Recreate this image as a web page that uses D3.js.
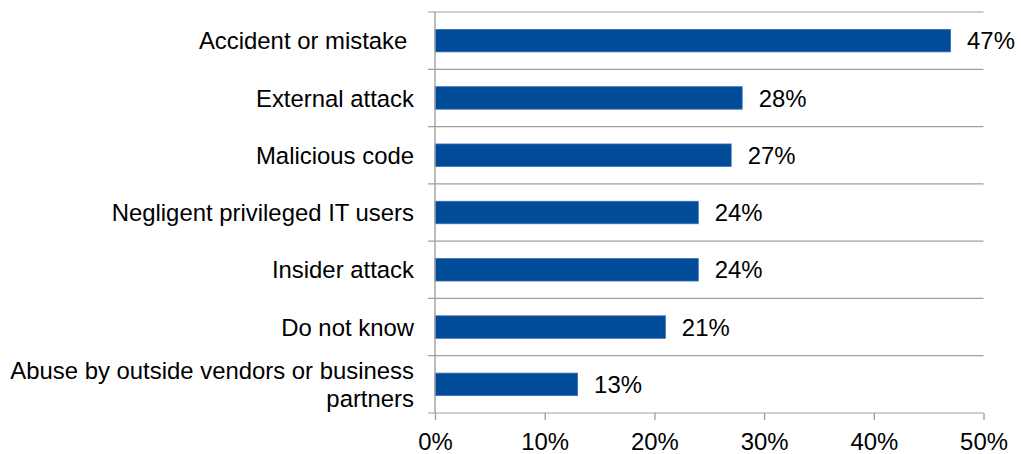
<!DOCTYPE html>
<html>
<head>
<meta charset="utf-8">
<script src="https://cdn.jsdelivr.net/npm/d3@7/dist/d3.min.js"></script>
<style>
  html, body { margin: 0; padding: 0; background: #fff; }
  svg { display: block; font-family: "Liberation Sans", Arial, sans-serif; }
</style>
</head>
<body>
<svg id="chart" width="1021" height="454"></svg>
<script>
// Causes of data breach, share of respondents (%)
const categories = [
  ["Accident or mistake "],
  ["External attack"],
  ["Malicious code"],
  ["Negligent privileged IT users"],
  ["Insider attack"],
  ["Do not know"],
  ["Abuse by outside vendors or business", "partners"]
];
const values = [47, 28, 27, 24, 24, 21, 13];
const xTicks = [0, 10, 20, 30, 40, 50];

const svg = d3.select("#chart");
const plotLeft = 435, plotRight = 983.5, plotTop = 12, plotBottom = 413;
const fontSize = 23.9;
const gridColor = "#a0a0a0";

const x = d3.scaleLinear().domain([0, 50]).range([plotLeft, plotRight]);
const y = d3.scaleBand().domain(d3.range(categories.length)).range([plotTop, plotBottom]).paddingInner(0).paddingOuter(0);
const barH = 22.5;

// horizontal separators between categories, extending left as ticks
const bounds = d3.range(categories.length + 1).map(i => plotTop + i * y.step());
svg.append("g").selectAll("line").data(bounds).join("line")
  .attr("x1", plotLeft - 7).attr("x2", plotRight)
  .attr("y1", d => d).attr("y2", d => d)
  .attr("stroke", gridColor).attr("stroke-width", 1.2);

// bars
svg.append("g").selectAll("rect").data(values).join("rect")
  .attr("x", x(0))
  .attr("y", (d, i) => y(i) + y.bandwidth() / 2 - barH / 2)
  .attr("width", d => x(d) - x(0))
  .attr("height", barH)
  .attr("fill", "#004c98")
  .attr("stroke", "#3a70b5")
  .attr("stroke-width", 0.8);

// vertical axis line
svg.append("line")
  .attr("x1", plotLeft).attr("x2", plotLeft)
  .attr("y1", plotTop).attr("y2", plotBottom)
  .attr("stroke", gridColor).attr("stroke-width", 1.4);

// x axis
const xAxis = d3.axisBottom(x).tickValues(xTicks).tickFormat(d => d + "%").tickSize(7).tickSizeOuter(0);
const gx = svg.append("g").attr("transform", `translate(0,${plotBottom})`).call(xAxis);
gx.select(".domain").remove();
gx.selectAll(".tick line").attr("stroke", gridColor).attr("stroke-width", 1.4);
gx.selectAll(".tick text")
  .attr("fill", "#000")
  .attr("font-size", fontSize)
  .attr("font-family", "Liberation Sans, Arial, sans-serif")
  .attr("dy", null)
  .attr("y", 36.5);

// category labels
const lineH = 27.3;
const labels = svg.append("g").selectAll("text").data(categories).join("text")
  .attr("text-anchor", "end")
  .attr("font-size", fontSize)
  .attr("fill", "#000")
  .style("white-space", "pre");
labels.each(function(lines, i) {
  const cy = y(i) + y.bandwidth() / 2;
  const first = cy + 0.36 * fontSize - (lines.length - 1) * lineH / 2;
  d3.select(this).selectAll("tspan").data(lines).join("tspan")
    .attr("x", 414)
    .attr("y", (d, j) => first + j * lineH)
    .text(d => d);
});

// value labels
svg.append("g").selectAll("text").data(values).join("text")
  .attr("x", d => x(d) + 16.5)
  .attr("y", (d, i) => y(i) + y.bandwidth() / 2 + 0.36 * fontSize)
  .attr("font-size", fontSize)
  .attr("fill", "#000")
  .text(d => d + "%");
</script>
</body>
</html>
